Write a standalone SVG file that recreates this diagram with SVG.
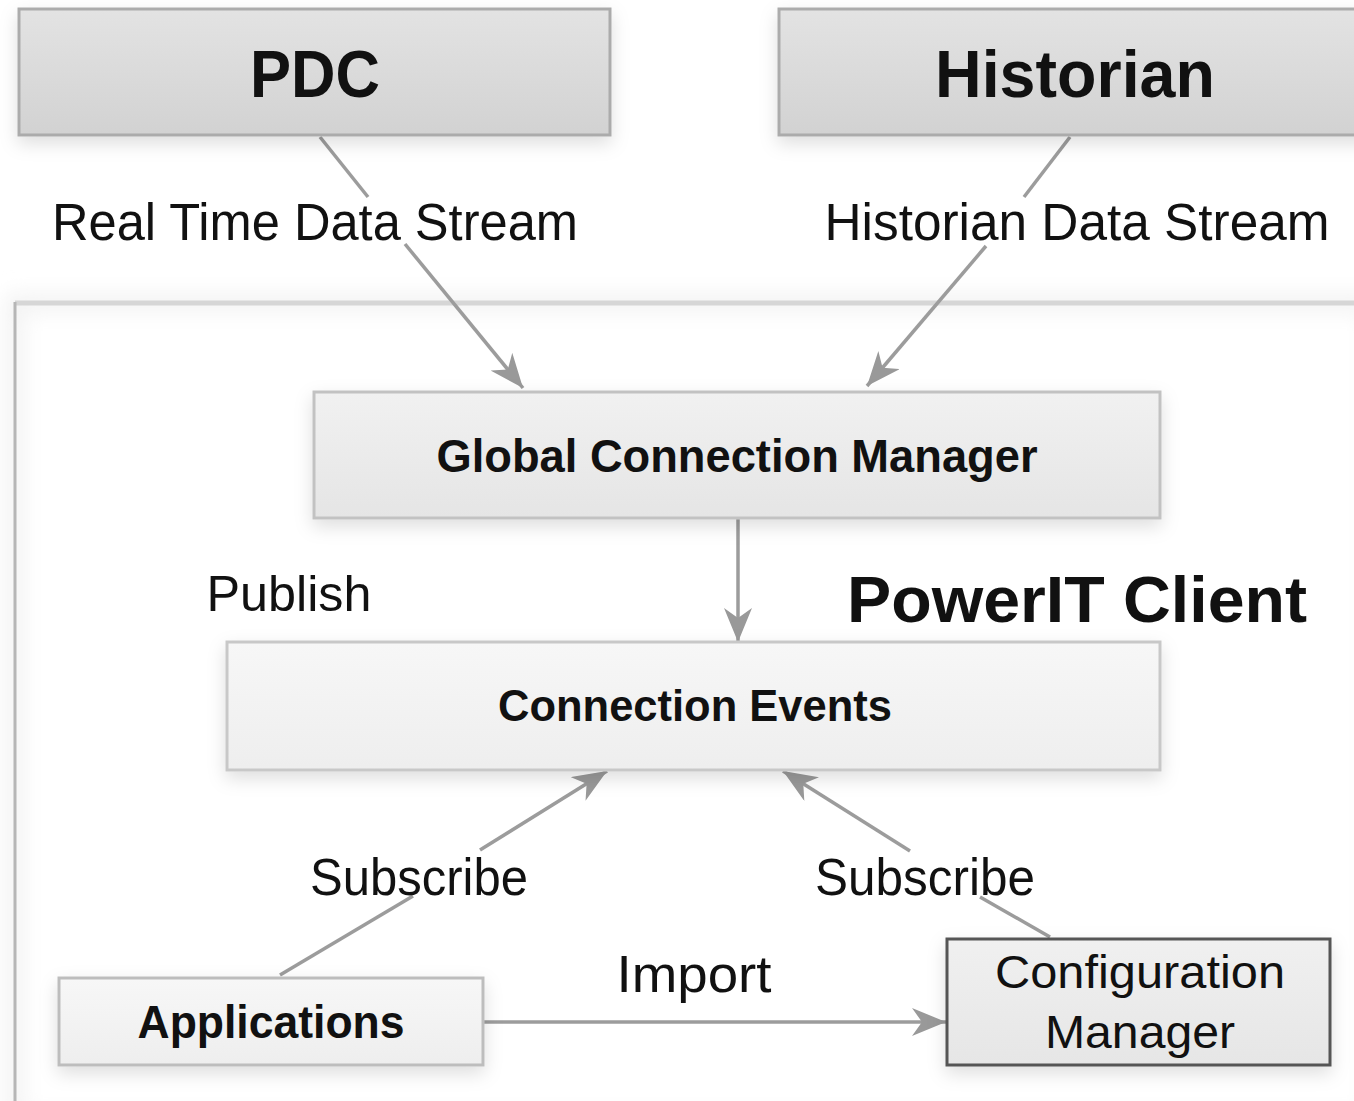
<svg xmlns="http://www.w3.org/2000/svg" width="1354" height="1101" viewBox="0 0 1354 1101">
  <defs>
    <linearGradient id="gTop" x1="0" y1="0" x2="0" y2="1">
      <stop offset="0" stop-color="#e3e3e3"/>
      <stop offset="1" stop-color="#d2d2d2"/>
    </linearGradient>
    <linearGradient id="gMid" x1="0" y1="0" x2="0" y2="1">
      <stop offset="0" stop-color="#f1f1f1"/>
      <stop offset="1" stop-color="#e5e5e5"/>
    </linearGradient>
    <linearGradient id="gLight" x1="0" y1="0" x2="0" y2="1">
      <stop offset="0" stop-color="#f7f7f7"/>
      <stop offset="1" stop-color="#eeeeee"/>
    </linearGradient>
    <linearGradient id="gCfg" x1="0" y1="0" x2="0" y2="1">
      <stop offset="0" stop-color="#f0f0f0"/>
      <stop offset="1" stop-color="#e6e6e6"/>
    </linearGradient>
    <filter id="shadow" x="-10%" y="-20%" width="120%" height="150%">
      <feDropShadow dx="0" dy="7" stdDeviation="9" flood-color="#000" flood-opacity="0.13"/>
    </filter>
    <filter id="soft" x="-5%" y="-5%" width="110%" height="110%">
      <feGaussianBlur stdDeviation="10"/>
    </filter>
    <marker id="arrow" viewBox="0 0 34 28" refX="34" refY="14" markerWidth="34" markerHeight="28" markerUnits="userSpaceOnUse" orient="auto">
      <path d="M34,14 L0,0 L10,14 L0,28 Z" fill="#999"/>
    </marker>
    <style>
      .box { stroke-width: 3; filter: url(#shadow); }
      .edge { fill: none; stroke: #9c9c9c; stroke-width: 3.5; }
      .title { font-family: "Liberation Sans", Arial, sans-serif; font-weight: bold; fill: #111; text-anchor: middle; }
      .label { font-family: "Liberation Sans", Arial, sans-serif; fill: #111; text-anchor: middle; }
    </style>
  </defs>

  <rect width="1354" height="1101" fill="#fff"/>

  <!-- client frame -->
  <g id="client-frame">
    <rect x="15" y="303" width="1360" height="820" fill="none" stroke="#f2f2f2" stroke-width="18" filter="url(#soft)"/>
    <line x1="15" y1="303" x2="1354" y2="303" stroke="#d6d6d6" stroke-width="5"/>
    <line x1="15" y1="302" x2="15" y2="1101" stroke="#b6b6b6" stroke-width="3"/>
    <text class="title" x="1077" y="622" font-size="64" textLength="460" lengthAdjust="spacingAndGlyphs">PowerIT Client</text>
  </g>

  <!-- connectors -->
  <g id="connectors">
    <path class="edge" d="M320,137 L368,197"/>
    <path class="edge" d="M405,244 L523,388" marker-end="url(#arrow)"/>
    <path class="edge" d="M1070,137 L1024,197"/>
    <path class="edge" d="M986,246 L867,386" marker-end="url(#arrow)"/>
    <path class="edge" d="M738,518 L738,642" marker-end="url(#arrow)"/>
    <path class="edge" d="M280,975 L413,896"/>
    <path class="edge" d="M480,850 L607,771" marker-end="url(#arrow)"/>
    <path class="edge" d="M1050,937 L980,897"/>
    <path class="edge" d="M910,851 L783,771" marker-end="url(#arrow)"/>
    <path class="edge" d="M483,1022 L946,1022" marker-end="url(#arrow)"/>
  </g>

  <!-- edge labels -->
  <g id="edge-labels">
    <text class="label" x="315" y="240" font-size="51" textLength="526" lengthAdjust="spacingAndGlyphs">Real Time Data Stream</text>
    <text class="label" x="1077" y="240" font-size="51" textLength="505" lengthAdjust="spacingAndGlyphs">Historian Data Stream</text>
    <text class="label" x="289" y="611" font-size="50" textLength="165" lengthAdjust="spacingAndGlyphs">Publish</text>
    <text class="label" x="419" y="895" font-size="52" textLength="218" lengthAdjust="spacingAndGlyphs">Subscribe</text>
    <text class="label" x="925" y="895" font-size="52" textLength="220" lengthAdjust="spacingAndGlyphs">Subscribe</text>
    <text class="label" x="694" y="992" font-size="52" textLength="155" lengthAdjust="spacingAndGlyphs">Import</text>
  </g>

  <g id="pdc">
    <rect class="box" x="19" y="9" width="591" height="126" fill="url(#gTop)" stroke="#ababab"/>
    <text class="title" x="315" y="97" font-size="66" textLength="130" lengthAdjust="spacingAndGlyphs">PDC</text>
  </g>

  <g id="historian">
    <rect class="box" x="779" y="9" width="600" height="126" fill="url(#gTop)" stroke="#ababab"/>
    <text class="title" x="1075" y="97" font-size="66" textLength="280" lengthAdjust="spacingAndGlyphs">Historian</text>
  </g>

  <g id="global-connection-manager">
    <rect class="box" x="314" y="392" width="846" height="126" fill="url(#gMid)" stroke="#c2c2c2"/>
    <text class="title" x="737" y="472" font-size="46" textLength="601" lengthAdjust="spacingAndGlyphs">Global Connection Manager</text>
  </g>

  <g id="connection-events">
    <rect class="box" x="227" y="642" width="933" height="128" fill="url(#gLight)" stroke="#c8c8c8"/>
    <text class="title" x="695" y="721" font-size="44" textLength="394" lengthAdjust="spacingAndGlyphs">Connection Events</text>
  </g>

  <g id="applications">
    <rect class="box" x="59" y="978" width="424" height="87" fill="url(#gLight)" stroke="#bdbdbd"/>
    <text class="title" x="271" y="1038" font-size="46" textLength="267" lengthAdjust="spacingAndGlyphs">Applications</text>
  </g>

  <g id="configuration-manager">
    <rect class="box" x="947" y="939" width="383" height="126" fill="url(#gCfg)" stroke="#555"/>
    <text class="label" x="1140" y="988" font-size="46" textLength="290" lengthAdjust="spacingAndGlyphs">Configuration</text>
    <text class="label" x="1140" y="1048" font-size="46" textLength="190" lengthAdjust="spacingAndGlyphs">Manager</text>
  </g>
</svg>
